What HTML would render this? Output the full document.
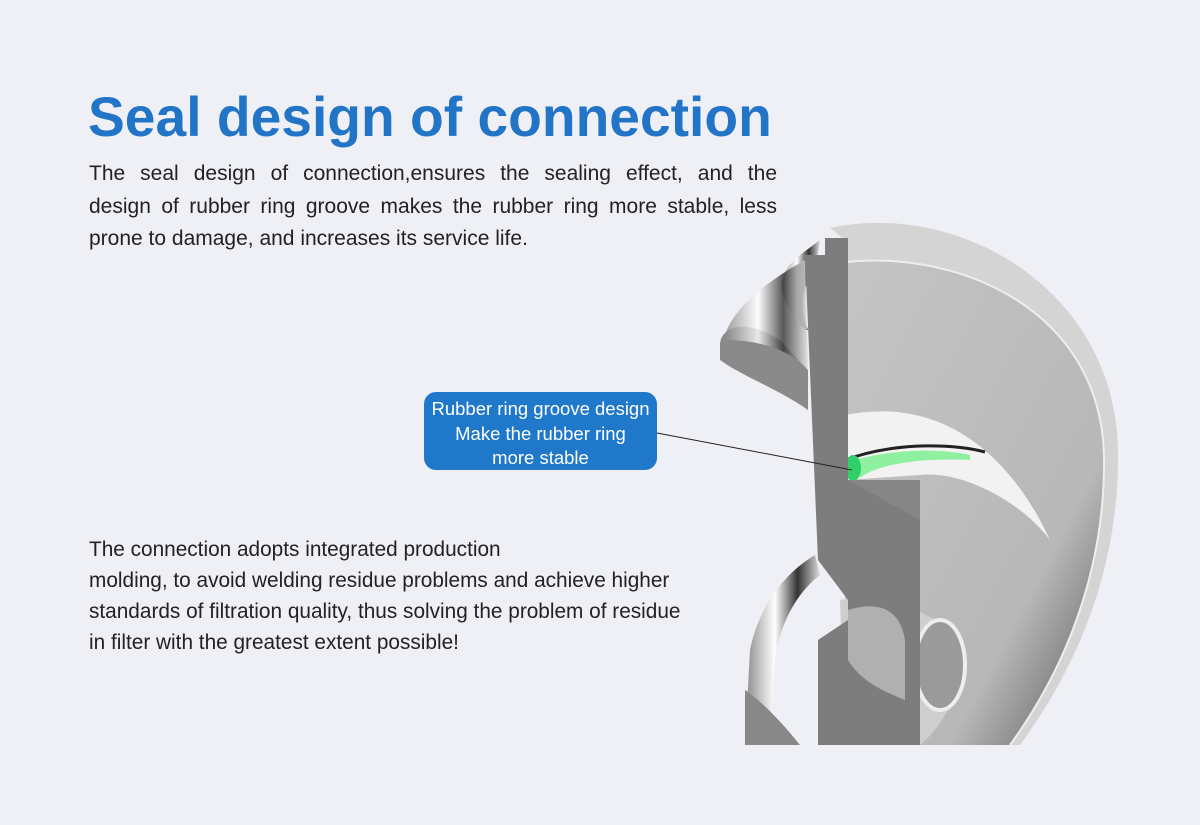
<!DOCTYPE html>
<html><head><style>
body{margin:0;width:1200px;height:825px;background:#eff0f6;font-family:"Liberation Sans",sans-serif;position:relative;overflow:hidden}
h1{position:absolute;left:88px;top:85px;margin:0;font-size:55.2px;font-weight:bold;color:#2275c6;white-space:nowrap}
.p1{position:absolute;left:89px;top:158px;width:688px;font-size:21px;line-height:32.5px;color:#222;margin:0}
.p1 div{text-align:justify;text-align-last:justify;white-space:nowrap;}
.p1 div.l{text-align-last:left}
.p2{position:absolute;left:89px;top:534px;width:680px;font-size:20.8px;line-height:31px;color:#222;margin:0;white-space:nowrap}
.box{position:absolute;left:424px;top:392px;width:233px;height:78px;border-radius:12px;background:#1f78c9;color:#fff;font-size:18.5px;line-height:24.5px;text-align:center;padding-top:5px;box-sizing:border-box;white-space:nowrap}
svg{position:absolute;left:0;top:0}
</style></head><body>
<svg width="1200" height="825">
<defs>
<linearGradient id="d" x1="0" y1="0" x2="1" y2="1"><stop offset="0" stop-color="#c4c4c4"/><stop offset="0.7" stop-color="#b8b8b8"/><stop offset="1" stop-color="#555"/></linearGradient>
<linearGradient id="m" x1="0" y1="0" x2="1" y2="0"><stop offset="0" stop-color="#888"/><stop offset="0.4" stop-color="#fff"/><stop offset="0.7" stop-color="#333"/><stop offset="1" stop-color="#ddd"/></linearGradient>
</defs>
<path d="M830,228 C960,200 1115,290 1118,450 C1120,590 1060,690 1020,745 L845,745 L845,240 Z" fill="#d4d4d4"/>
<path d="M845,262 C960,250 1100,310 1104,455 C1106,590 1050,690 1010,745 L845,745 Z" fill="url(#d)"/>
<path d="M845,262 C960,250 1100,310 1104,455 C1106,590 1050,690 1010,745" fill="none" stroke="#eee" stroke-width="2"/>
<path d="M845,415 C920,400 990,430 1040,520 L1050,540 C1020,500 960,470 920,475 L845,480 Z" fill="#f2f2f2"/>
<path d="M845,460 C900,440 960,445 985,452" fill="none" stroke="#222" stroke-width="3"/>
<path d="M848,462 C900,446 950,450 970,455 L970,460 C930,458 880,462 860,478 Z" fill="#8ff0a0"/>
<ellipse cx="853" cy="468" rx="8" ry="13" fill="#2fcf6a"/>
<path d="M840,600 C880,590 930,610 960,640 C970,670 950,720 920,745 L845,745 Z" fill="#cfcfcf"/>
<ellipse cx="940" cy="665" rx="25" ry="45" fill="#9a9a9a" stroke="#eee" stroke-width="4"/>
<path d="M805,330 C780,300 770,280 800,255 L820,240 L815,270 C800,290 800,310 808,330 Z" fill="url(#m)"/>
<path d="M720,345 C720,330 740,315 780,340 L808,370 L808,410 C780,390 740,375 720,360 Z" fill="#8a8a8a"/>
<path d="M725,335 C735,305 770,280 805,260 L808,370 C790,350 760,340 725,340 Z" fill="url(#m)" opacity="0.8"/>
<path d="M750,650 C760,600 790,570 815,555 L820,575 C800,590 780,620 775,660 L770,745 L745,745 Z" fill="url(#m)"/>
<path d="M745,690 C760,700 780,720 800,745 L745,745 Z" fill="#888"/>
<path d="M805,255 L825,255 L825,238 L848,238 L848,415 L848,480 L920,480 L920,745 L818,745 L818,640 L848,620 L848,600 L818,560 Z" fill="#7d7d7d"/>
<path d="M848,480 L920,480 L920,520 Z" fill="#868686"/>
<path d="M848,610 C880,600 900,610 905,640 L905,700 C880,690 860,680 848,660 Z" fill="#b0b0b0"/>
<line x1="657" y1="433" x2="852" y2="470" stroke="#222" stroke-width="1"/>
</svg>
<h1>Seal design of connection</h1>
<div class="p1"><div>The seal design of connection,ensures the sealing effect, and the</div><div>design of rubber ring groove makes the rubber ring more stable, less</div><div class="l">prone to damage, and increases its service life.</div></div>
<p class="p2">The connection adopts integrated production<br>molding, to avoid welding residue problems and achieve higher<br>standards of filtration quality, thus solving the problem of residue<br>in filter with the greatest extent possible!</p>
<div class="box">Rubber ring groove design<br>Make the rubber ring<br>more stable</div>
</body></html>
